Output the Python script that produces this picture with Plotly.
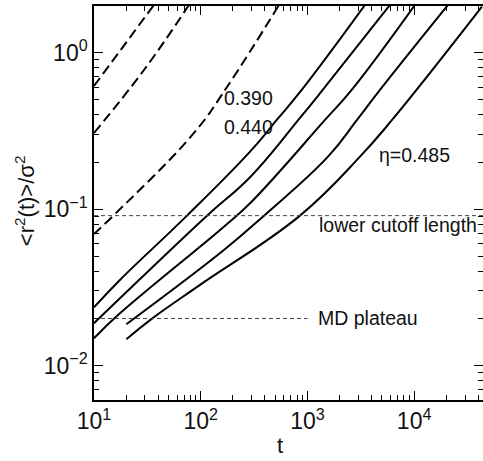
import math
import plotly.graph_objects as go

# ---- data ----
solid_t = [
    [10, 17.5, 74.4, 290, 516, 884, 3467],
    [10, 17.5, 114.6, 290, 852, 1391, 5943],
    [10, 17.5, 165, 290, 1462, 2600, 10195],
    [20.1, 165, 392, 1560, 2917, 4786, 20800],
    [20.1, 35, 98.5, 852, 3112, 6210, 43250],
]
solid_r = [
    [0.0236, 0.0353, 0.0909, 0.233, 0.3715, 0.578, 2.02],
    [0.01866, 0.02696, 0.0909, 0.160, 0.3826, 0.578, 2.02],
    [0.01496, 0.0216, 0.0773, 0.109, 0.3715, 0.578, 2.02],
    [0.01839, 0.0548, 0.0909, 0.2165, 0.3715, 0.578, 2.02],
    [0.01475, 0.01997, 0.0328, 0.0909, 0.2165, 0.3715, 1.97],
]
dashed_t = [
    [10, 36.5],
    [10, 29.4, 77.7],
    [10, 15.4, 86.5, 176.4, 542],
]
dashed_r = [
    [0.612, 2.02],
    [0.3068, 0.775, 2.02],
    [0.0694, 0.0918, 0.3068, 0.6036, 2.02],
]
cutoff_t = [10, 45000]
cutoff_r = [0.0909, 0.0909]
plateau_t = [10, 1000]
plateau_r = [0.020, 0.020]

labels = ["0.390", "0.440", "η=0.485", "lower cutoff length", "MD plateau"]
label_t = [158, 158, 4462, 1223, 1212]
label_r = [0.516, 0.3366, 0.222, 0.0793, 0.0202]

x_tickvals = [10, 100, 1000, 10000]
x_ticktext = ["10<sup>1</sup>", "10<sup>2</sup>", "10<sup>3</sup>", "10<sup>4</sup>"]
y_tickvals = [0.01, 0.1, 1]
y_ticktext = ["10<sup>−2</sup>", "10<sup>−1</sup>", "10<sup>0</sup>"]

FONT = "Liberation Sans, Arial, sans-serif"

fig = go.Figure()

for t, r in zip(dashed_t, dashed_r):
    fig.add_trace(go.Scatter(x=t, y=r, mode="lines",
                             line=dict(color="black", width=2, dash="10px,5px",
                                       shape="spline", smoothing=1.2),
                             showlegend=False, hoverinfo="skip"))
for t, r in zip(solid_t, solid_r):
    fig.add_trace(go.Scatter(x=t, y=r, mode="lines",
                             line=dict(color="black", width=2, shape="spline", smoothing=1.2),
                             showlegend=False, hoverinfo="skip"))
for t, r in [(cutoff_t, cutoff_r), (plateau_t, plateau_r)]:
    fig.add_trace(go.Scatter(x=t, y=r, mode="lines",
                             line=dict(color="#444", width=1, dash="4px,3px"),
                             showlegend=False, hoverinfo="skip"))

for txt, t, r in zip(labels, label_t, label_r):
    fig.add_annotation(x=math.log10(t), y=math.log10(r), text=txt, showarrow=False,
                       xanchor="left", yanchor="middle",
                       font=dict(family=FONT, size=19.5, color="#111"))

# axis titles
fig.add_annotation(xref="paper", yref="paper", x=0.478, y=-0.153, text="t",
                   showarrow=False, xanchor="center", yanchor="bottom",
                   font=dict(family=FONT, size=22, color="#111"))
fig.add_annotation(xref="paper", yref="paper", x=-0.177, y=0.505,
                   text="&lt;r<sup>2</sup>(t)&gt;/σ<sup>2</sup>", textangle=-90,
                   showarrow=False, xanchor="center", yanchor="middle",
                   font=dict(family=FONT, size=22, color="#111"))

x_minor = [m * 10 ** e for e in range(1, 5) for m in range(2, 10)]
y_minor = [m * 10 ** e for e in range(-3, 1) for m in range(2, 10)]

axis_common = dict(showline=True, linecolor="black", linewidth=1.5, mirror="ticks",
                   ticks="inside", ticklen=9, tickwidth=1, tickcolor="black",
                   showgrid=False, zeroline=False, automargin=False,
                   tickfont=dict(family=FONT, size=23, color="#111"))

fig.update_xaxes(type="log", range=[1, 4.6457], tickmode="array",
                 tickvals=x_tickvals, ticktext=x_ticktext,
                 minor=dict(tickmode="array", tickvals=x_minor, ticks="inside",
                            ticklen=5, tickwidth=1, tickcolor="black", showgrid=False),
                 **axis_common)
fig.update_yaxes(type="log", range=[-2.2195, 0.2981], tickmode="array",
                 tickvals=y_tickvals, ticktext=y_ticktext,
                 minor=dict(tickmode="array", tickvals=y_minor, ticks="inside",
                            ticklen=5, tickwidth=1, tickcolor="black", showgrid=False),
                 **axis_common)

fig.update_layout(width=483, height=461, template="none",
                  margin=dict(l=94, r=0, t=6, b=61, pad=0),
                  paper_bgcolor="white", plot_bgcolor="white",
                  font=dict(family=FONT, color="#111"))

fig.write_html("out.html", config={"displayModeBar": False},
               post_script="document.body.style.margin='0px';document.body.style.overflow='hidden';")
